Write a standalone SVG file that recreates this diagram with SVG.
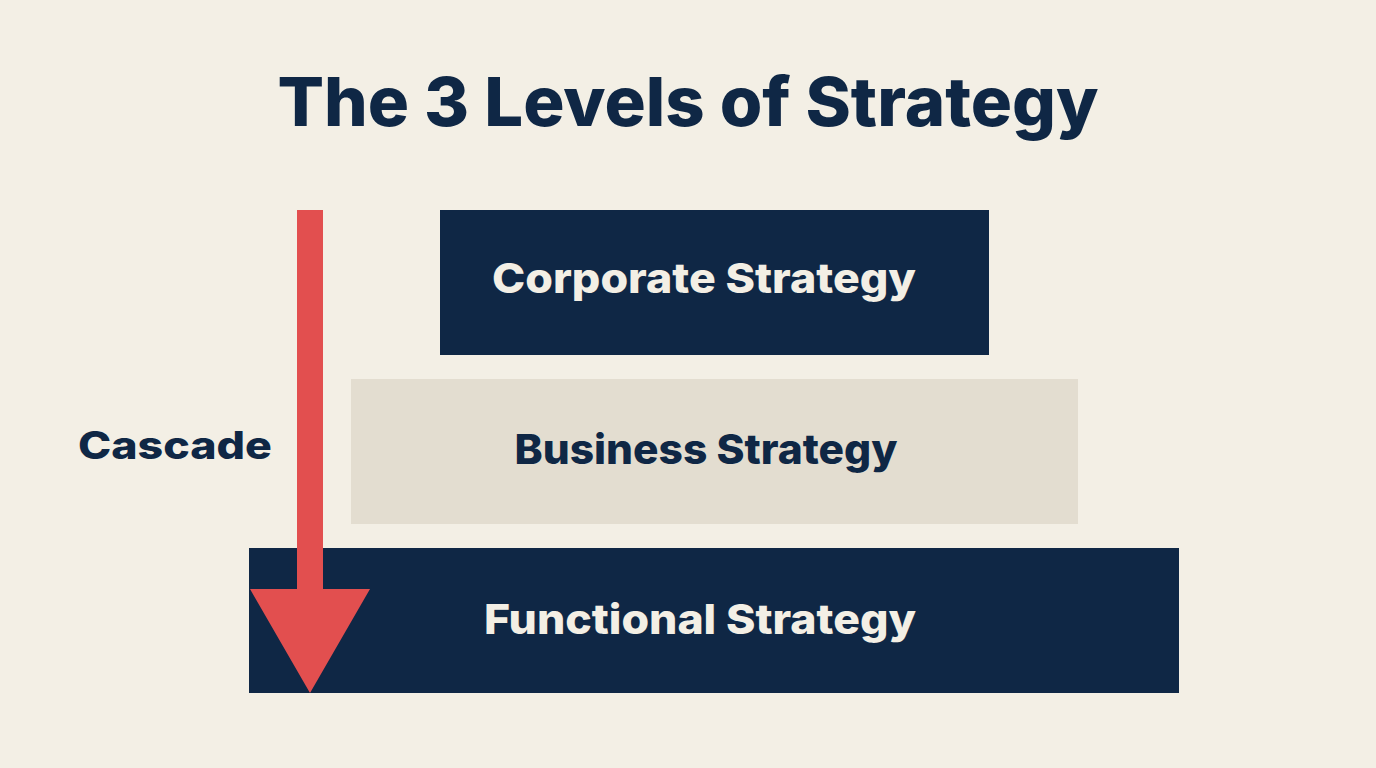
<svg xmlns="http://www.w3.org/2000/svg" width="1376" height="768" viewBox="0 0 1376 768">
<style>
.t{font-family:Inter,"Liberation Sans",sans-serif;font-weight:800}
.navy{fill:#0F2745}
.light{fill:#F3EFE5}
</style>
<rect width="1376" height="768" fill="#F3EFE5"/>
<text class="t navy" x="688" y="126" font-size="68" text-anchor="middle" textLength="821" lengthAdjust="spacingAndGlyphs">The 3 Levels of Strategy</text>
<g id="corporate">
<rect x="440" y="210" width="549" height="145" class="navy"/>
<text class="t light" x="704" y="293" font-size="41" text-anchor="middle" textLength="424" lengthAdjust="spacingAndGlyphs">Corporate Strategy</text>
</g>
<g id="business">
<rect x="351" y="379" width="727" height="145" fill="#E3DDD0"/>
<text class="t navy" x="706" y="464" font-size="41" text-anchor="middle" textLength="383" lengthAdjust="spacingAndGlyphs">Business Strategy</text>
</g>
<g id="functional">
<rect x="249" y="548" width="930" height="145" class="navy"/>
<text class="t light" x="700" y="634" font-size="41" text-anchor="middle" textLength="432" lengthAdjust="spacingAndGlyphs">Functional Strategy</text>
</g>
<g id="connectors">
<polygon points="297,210 323,210 323,589 370,589 310,693 250,589 297,589" fill="#E24F4F"/>
<text class="t navy" x="175" y="459" font-size="38" text-anchor="middle" textLength="194" lengthAdjust="spacingAndGlyphs">Cascade</text>
</g>
</svg>
